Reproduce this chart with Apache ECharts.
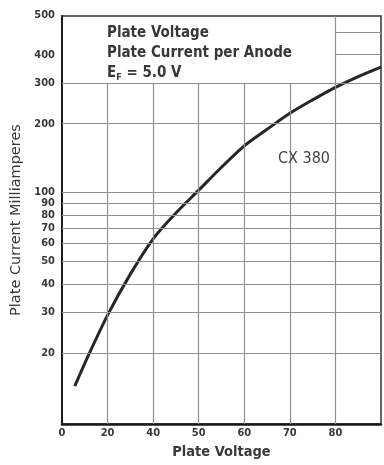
<!DOCTYPE html>
<html>
<head>
<meta charset="utf-8">
<script src="https://cdn.jsdelivr.net/npm/echarts@6/dist/echarts.min.js"></script>
<style>
html,body{margin:0;padding:0;background:#fff;}
#chart{width:384px;height:465px;}
</style>
</head>
<body>
<div id="chart"></div>
<script>
// ---- data ----
// x positions are grid-column positions; labels below name each grid column
const xTickLabels = ['0', '20', '40', '50', '60', '70', '80', ''];
const yTickValues = [20, 30, 40, 50, 60, 70, 80, 90, 100, 200, 300, 400, 500];
const plateVoltagePos = [0.28, 0.5, 1.0, 1.5, 2.0, 2.5, 3.0, 3.5, 4.0, 4.5, 5.0, 5.5, 6.0, 6.5, 7.0];
const plateCurrentMa = [14.3, 18.0, 29.2, 44.1, 62.9, 81.5, 102.5, 129, 160, 189, 222, 254, 288, 321, 353];
const curveLabel = 'CX 380';
const boxLines = ['Plate Voltage', 'Plate Current per Anode'];
const yMin = 9.78, yMax = 590;
const xMin = 0, xMax = 7;
// annotation box occupies columns 0..boxXTo and values above boxYFrom
const boxXTo = 6, boxYFrom = 300;

const FONT = "'DejaVu Sans Condensed', 'DejaVu Sans', sans-serif";
const GRID = '#8f8f8f';
const TEXT = '#383838';

// grid lines built from tick arrays (clipped around the annotation box)
const gridLines = [];
yTickValues.forEach(v => {
  const x0 = v > boxYFrom ? boxXTo : xMin;
  gridLines.push([{coord: [x0, v]}, {coord: [xMax, v]}]);
});
for (let i = 1; i < xMax; i++) {
  const yTop = i < boxXTo ? boxYFrom : yMax;
  gridLines.push([{coord: [i, yMin]}, {coord: [i, yTop]}]);
}

const chart = echarts.init(document.getElementById('chart'), null, {renderer: 'canvas'});
chart.setOption({
  animation: false,
  backgroundColor: '#fff',
  grid: {left: 62, right: 2, top: 16, bottom: 38, show: true, borderColor: '#333', borderWidth: 1.5, backgroundColor: 'transparent'},
  xAxis: {
    type: 'value', min: xMin, max: xMax, interval: 1,
    name: 'Plate Voltage', nameLocation: 'middle', nameGap: 21,
    nameTextStyle: {fontFamily: FONT, fontSize: 14.5, fontWeight: 'bold', color: TEXT},
    axisLine: {show: true, lineStyle: {color: '#1a1a1a', width: 2.5}},
    axisTick: {show: false},
    splitLine: {show: false},
    axisLabel: {
      margin: 4, fontFamily: FONT, fontSize: 11, fontWeight: 'bold', color: TEXT,
      formatter: v => xTickLabels[Math.round(v)] || ''
    }
  },
  yAxis: {
    type: 'log', min: yMin, max: yMax, logBase: 10,
    name: 'Plate Current Milliamperes', nameLocation: 'middle', nameGap: 37,
    nameTextStyle: {fontFamily: "'DejaVu Sans', sans-serif", fontSize: 14.5, color: TEXT},
    axisLine: {show: true, lineStyle: {color: '#1a1a1a', width: 2}},
    axisTick: {show: false},
    splitLine: {show: false},
    minorTick: {show: false},
    axisLabel: {
      customValues: yTickValues,
      margin: 7, fontFamily: FONT, fontSize: 11, fontWeight: 'bold', color: TEXT,
      formatter: v => {
        const r = Math.round(v);
        return r === yTickValues[yTickValues.length - 1] ? '{up|' + r + '}' : String(r);
      },
      rich: {
        up: {fontFamily: FONT, fontSize: 11, fontWeight: 'bold', color: TEXT, padding: [0, 0, 34, 0]}
      }
    }
  },
  series: [
    {
      type: 'line', data: [], z: 1, silent: true,
      markLine: {
        silent: true, symbol: ['none', 'none'], animation: false,
        label: {show: false},
        lineStyle: {color: GRID, width: 1.2, type: 'solid'},
        emphasis: {disabled: true},
        data: gridLines
      }
    },
    {
      type: 'line', z: 3, silent: true,
      data: plateVoltagePos.map((x, i) => [x, plateCurrentMa[i]]),
      showSymbol: false, symbol: 'none',
      smooth: 0.3,
      lineStyle: {color: '#262626', width: 3}
    }
  ],
  graphic: [
    {
      type: 'text', left: 107, top: 23, z: 10,
      style: {
        text: boxLines[0] + '\n' + boxLines[1] + '\n{e|E}{s|F}{e| = 5.0 V}',
        font: "bold 15px " + FONT, fill: TEXT, lineHeight: 20,
        rich: {
          e: {fontFamily: FONT, fontSize: 15, fontWeight: 'bold', fill: TEXT, lineHeight: 20},
          s: {fontFamily: FONT, fontSize: 9, fontWeight: 'bold', fill: TEXT, verticalAlign: 'bottom', lineHeight: 20, padding: [0, 0, 1, 0]}
        }
      }
    },
    {
      type: 'text', left: 278, top: 151, z: 10,
      style: {text: curveLabel, font: "16px " + FONT, fill: '#444'}
    }
  ]
});
</script>
</body>
</html>
